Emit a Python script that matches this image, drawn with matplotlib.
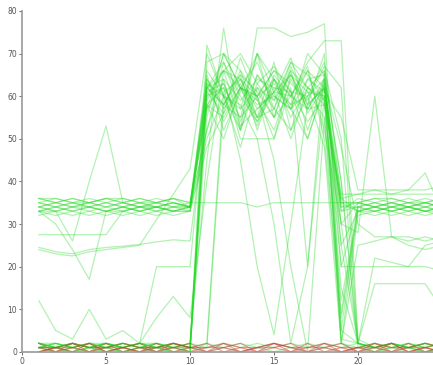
import matplotlib
matplotlib.use('Agg')
import matplotlib.pyplot as plt

# x positions of the samples
X = list(range(1, 26))

# green series
GREEN = [
    # braided band around 32-36, jump up at 11, back down near 19
    [36, 35, 36, 35, 36, 35, 36, 35, 36, 34, 58, 62, 55, 60, 63, 57, 61, 60, 35, 35, 36, 35, 36, 35, 36],
    [35, 36, 35, 36, 35, 36, 35, 36, 35, 34, 62, 58, 64, 57, 61, 65, 58, 62, 33, 36, 35, 36, 35, 36, 35],
    [34, 33, 34, 33, 34, 33, 34, 33, 34, 34, 52, 68, 57, 70, 55, 60, 67, 50, 8, 33, 34, 33, 34, 33, 34],
    [33, 34, 33, 34, 33, 34, 33, 34, 33, 34, 64, 57, 63, 54, 65, 60, 57, 63, 34, 34, 33, 34, 33, 34, 33],
    [33, 32, 33, 32, 33, 32, 33, 32, 33, 33, 58, 50, 62, 55, 68, 52, 60, 64, 2, 32, 33, 32, 33, 32, 33],
    [32, 33, 32, 33, 32, 33, 32, 33, 32, 33, 48, 56, 69, 59, 52, 64, 57, 58, 36, 33, 32, 33, 32, 33, 32],
    [36, 36, 35, 35, 36, 36, 35, 35, 36, 35, 35, 35, 35, 34, 35, 35, 35, 35, 35, 35, 36, 36, 35, 35, 36],
    [34, 35, 34, 35, 34, 35, 34, 35, 34, 34, 66, 60, 65, 61, 55, 66, 62, 66, 20, 34, 35, 34, 35, 34, 35],
    [35, 34, 35, 34, 35, 34, 35, 34, 35, 34, 52, 64, 59, 64, 62, 58, 66, 52, 30, 35, 34, 35, 34, 35, 34],
    [33, 33, 34, 34, 33, 33, 34, 34, 33, 34, 63, 54, 62, 68, 57, 66, 52, 64, 25, 33, 33, 34, 34, 33, 33],
    # near zero, jumping to the plateau
    [2, 1, 2, 1, 2, 1, 2, 1, 2, 1, 60, 66, 54, 65, 59, 68, 62, 58, 15, 2, 1, 2, 1, 2, 1],
    [1, 2, 1, 2, 1, 2, 1, 2, 1, 0, 55, 70, 62, 53, 64, 57, 70, 65, 40, 1, 2, 1, 2, 1, 2],
    [1, 1, 2, 1, 1, 2, 1, 1, 2, 1, 72, 60, 48, 62, 55, 67, 58, 70, 2, 0, 1, 2, 1, 0, 1],
    [2, 2, 1, 2, 2, 1, 2, 2, 1, 2, 45, 76, 52, 76, 76, 74, 75, 77, 5, 2, 1, 1, 2, 1, 2],
    [0, 1, 0, 1, 0, 1, 0, 1, 0, 0, 2, 61, 64, 60, 66, 63, 59, 67, 62, 2, 1, 0, 1, 0, 1],
    [1, 0, 1, 0, 1, 0, 1, 0, 1, 1, 1, 58, 55, 70, 61, 60, 68, 73, 73, 3, 1, 2, 1, 2, 1],
    [2, 1, 2, 1, 2, 1, 2, 1, 2, 0, 62, 66, 70, 63, 57, 52, 64, 61, 55, 38, 38, 37, 38, 38, 39],
    [1, 2, 1, 2, 1, 2, 1, 2, 1, 1, 65, 52, 61, 70, 64, 55, 62, 60, 30, 2, 1, 2, 1, 2, 1],
    [2, 1, 2, 1, 2, 1, 2, 1, 2, 1, 68, 70, 66, 55, 62, 61, 60, 48, 2, 25, 26, 27, 27, 26, 27],
    [1, 1, 0, 1, 1, 0, 1, 1, 0, 0, 64, 58, 66, 60, 50, 65, 57, 64, 25, 2, 0, 1, 1, 0, 1],
    # staying low
    [2, 1, 2, 1, 2, 1, 2, 1, 2, 1, 2, 1, 2, 1, 2, 1, 2, 1, 2, 1, 2, 1, 2, 1, 2],
    [1, 2, 1, 2, 1, 2, 1, 2, 1, 2, 1, 2, 1, 2, 1, 2, 1, 2, 1, 2, 1, 2, 1, 2, 1],
    [0, 1, 0, 1, 0, 1, 0, 1, 0, 1, 0, 1, 0, 1, 0, 1, 0, 1, 0, 1, 0, 1, 0, 1, 0],
    # odd ones
    [27.5, 27.5, 27.5, 27.5, 27.5, 33, 34, 34, 35, 34, 61, 56, 62, 60, 66, 61, 54, 60, 33, 34, 33, 34, 33, 34, 33],
    [24.5, 23.5, 23, 24, 24.5, 24.8, 25.2, 25.8, 26.3, 26, 57, 63, 53, 57, 61, 50, 62, 59, 20, 20, 20, 20, 20, 25, 26],
    [12, 5, 3, 10, 3, 5, 2, 8, 13, 8, 40, 66, 62, 58, 60, 57, 50, 63, 48, 30, 27, 27, 25, 24, 25],
    [2, 1, 2, 1, 2, 1, 2, 20, 20, 20, 62, 58, 65, 52, 64, 60, 66, 62, 37, 37, 37, 37, 37, 37, 37],
    [34, 33, 26, 40, 53, 35, 34, 33, 34, 33, 50, 60, 57, 62, 59, 65, 61, 55, 12, 33, 34, 33, 34, 33, 34],
    [33, 30, 24, 17, 33, 34, 33, 34, 33, 34, 59, 66, 64, 55, 57, 68, 65, 59, 34, 35, 34, 35, 34, 35, 34],
    [24, 23, 22.5, 23.5, 24, 24.5, 25, 31, 37, 43, 70, 60, 52, 63, 67, 61, 50, 62, 35, 33, 34, 33, 34, 33, 34],
    [35, 34, 35, 34, 35, 34, 35, 34, 35, 34, 60, 62, 45, 20, 4, 30, 58, 62, 5, 34, 35, 34, 35, 34, 35],
    [34, 35, 34, 35, 34, 35, 34, 35, 34, 35, 63, 60, 58, 50, 30, 2, 20, 60, 9, 35, 34, 35, 34, 35, 34],
    [1, 2, 1, 2, 1, 2, 1, 2, 1, 2, 58, 55, 62, 60, 45, 20, 0, 55, 3, 2, 1, 2, 1, 2, 1],
    [2, 1, 2, 1, 2, 1, 2, 1, 2, 1, 62, 64, 50, 50, 50, 62, 20, 66, 50, 2, 16, 16, 16, 16, 10],
    [33, 34, 33, 34, 33, 34, 33, 34, 33, 33, 62, 68, 60, 54, 61, 69, 56, 62, 30, 28, 60, 27, 26, 27, 26],
    [36, 35, 36, 35, 36, 35, 36, 35, 36, 35, 57, 70, 62, 59, 64, 58, 60, 68, 36, 37, 38, 38, 38, 42, 33],
    [1, 0, 1, 0, 1, 0, 1, 0, 1, 0, 61, 63, 52, 65, 60, 57, 64, 65, 40, 2, 22, 21, 20, 20, 19],
]

# red series, all near zero
RED = [
    [1, 0, 2, 0, 2, 0, 1, 0, 2, 1, 0, 2, 0, 1, 2, 0, 2, 0, 1, 0, 2, 0, 2, 0, 1],
    [0, 1, 0, 2, 0, 1, 0, 2, 0, 1, 2, 0, 1, 0, 2, 1, 0, 2, 0, 1, 0, 2, 0, 1, 0],
    [1, 1, 2, 1, 1, 2, 1, 1, 2, 1, 1, 2, 1, 1, 2, 1, 1, 2, 1, 1, 2, 1, 1, 2, 1],
    [2, 0, 1, 2, 0, 1, 2, 0, 1, 2, 0, 1, 2, 0, 1, 2, 0, 1, 2, 0, 1, 2, 0, 1, 2],
    [0, 1, 1, 0, 1, 1, 0, 1, 1, 0, 1, 1, 0, 1, 1, 0, 1, 1, 0, 1, 1, 0, 1, 1, 0],
]

fig = plt.figure(figsize=(4.33, 3.65), dpi=100)
ax = fig.add_axes([0.051, 0.036, 0.96, 0.934])

for ys in GREEN:
    ax.plot(X, ys, color=(0.15, 0.85, 0.15), alpha=0.35, linewidth=0.9)
for ys in RED:
    ax.plot(X, ys, color=(0.8, 0.2, 0.2), alpha=0.45, linewidth=0.9)

ax.set_xlim(0, 24.75)
ax.set_ylim(0, 80)
ax.set_xticks([0, 5, 10, 15, 20])
ax.set_yticks([0, 10, 20, 30, 40, 50, 60, 70, 80])
for side in ['top', 'right']:
    ax.spines[side].set_visible(False)
for side in ['left', 'bottom']:
    ax.spines[side].set_color('#999999')
    ax.spines[side].set_linewidth(1.2)
ax.tick_params(direction='out', length=2, width=0.6, colors='#555555',
               labelsize=5.5, pad=1.5)

fig.savefig('out.png', dpi=100)
